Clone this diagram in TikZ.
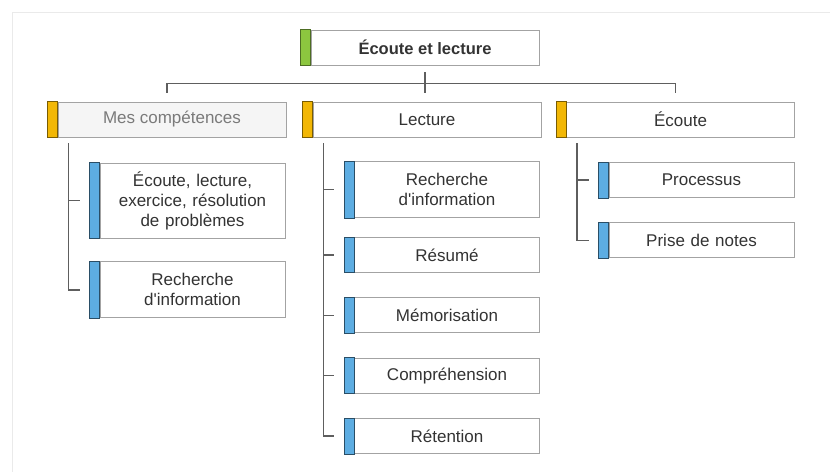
\documentclass[tikz,border=0pt]{standalone}
\usepackage{fontspec}
\setmainfont{Liberation Sans}
\usepackage{xcolor}
\usetikzlibrary{positioning}
\definecolor{barGreen}{HTML}{8CC63F}
\definecolor{barOrange}{HTML}{F2B705}
\definecolor{barBlue}{HTML}{5DADE2}
\definecolor{boxLine}{HTML}{A3A3A3}
\definecolor{linkGrey}{HTML}{5E5E5E}
\definecolor{textGrey}{HTML}{333333}
\definecolor{frameGrey}{HTML}{EAEAEA}

\begin{document}
\begin{tikzpicture}[
  x=1pt, y=1pt,
  node distance=24.5pt,
  box/.style={rectangle, draw=boxLine, line width=0.9pt, fill=white, minimum width=228pt, minimum height=35pt, inner sep=0pt, text=textGrey, font=\fontsize{17}{20}\selectfont},
  sub/.style={box, minimum width=185pt, text width=182pt, align=center},
  twolines/.style={minimum height=56pt},
  threelines/.style={minimum height=75pt},
  link/.style={draw=linkGrey, line width=1.3pt},
]
  \useasboundingbox (0,0) rectangle (830,-472);
  \draw[frameGrey, line width=0.8pt] (12,-472) -- (12,-12) -- (830,-12);

  % top and second level
  \node[box, font=\fontsize{16.5}{20}\selectfont\bfseries] (top) at (425,-47.5) {Écoute et lecture};
  \node[box, fill=black!4, text=black!52] (mes) at (172,-119.5) {Mes compétences};
  \node[box] (lecture) at (427,-119.5) {Lecture};
  \node[box] (ecoute) at (680.5,-119.5) {Écoute};

  % Mes compétences
  \node[sub, threelines] (m1) at (192.5,-200.5) {Écoute, lecture,\\exercice, résolution\\de problèmes};
  \node[sub, twolines, below=23pt of m1] (m2) {Recherche\\d\textquotesingle information};

  % Lecture
  \node[sub, twolines] (l1) at (447,-189.5) {Recherche\\d\textquotesingle information};
  \node[sub, below=19pt of l1] (l2) {Résumé};
  \node[sub, below=of l2] (l3) {Mémorisation};
  \node[sub, below=of l3] (l4) {Compréhension};
  \node[sub, below=of l4] (l5) {Rétention};

  % Écoute
  \node[sub] (e1) at (701.5,-180) {Processus};
  \node[sub, below=of e1] (e2) {Prise de notes};

  % colour bars
  \filldraw[fill=barGreen, draw=barGreen!55!black, line width=0.9pt] (top.north west) rectangle ([xshift=-10]top.south west);
  \foreach \n in {mes,lecture,ecoute}
    \filldraw[fill=barOrange, draw=barOrange!50!black, line width=0.9pt] (\n.north west) rectangle ([xshift=-10]\n.south west);
  \foreach \n in {m1,m2,l1,l2,l3,l4,l5,e1,e2}
    \filldraw[fill=barBlue, draw=barBlue!45!black, line width=0.9pt] (\n.north west) rectangle ([xshift=-10]\n.south west);

  % connectors
  \draw[link] ([yshift=-7]top.south) -- ([yshift=9]lecture.north -| top.south);
  \draw[link] ([xshift=-5,yshift=9]mes.north) -- ++(0,9) -| ([xshift=-5,yshift=9]ecoute.north);

  \coordinate (mesT) at ([xshift=11,yshift=-6]mes.south west);
  \draw[link] (mesT) |- ([xshift=-20]m2.west);
  \draw[link] (mesT |- m1.west) -- ([xshift=-20]m1.west);

  \coordinate (lecT) at ([xshift=11,yshift=-6]lecture.south west);
  \draw[link] (lecT) |- ([xshift=-20]l5.west);
  \foreach \c in {l1,l2,l3,l4}
    \draw[link] (lecT |- \c.west) -- ([xshift=-20]\c.west);

  \coordinate (ecoT) at ([xshift=11,yshift=-6]ecoute.south west);
  \draw[link] (ecoT) |- ([xshift=-20]e2.west);
  \draw[link] (ecoT |- e1.west) -- ([xshift=-20]e1.west);
\end{tikzpicture}
\end{document}
